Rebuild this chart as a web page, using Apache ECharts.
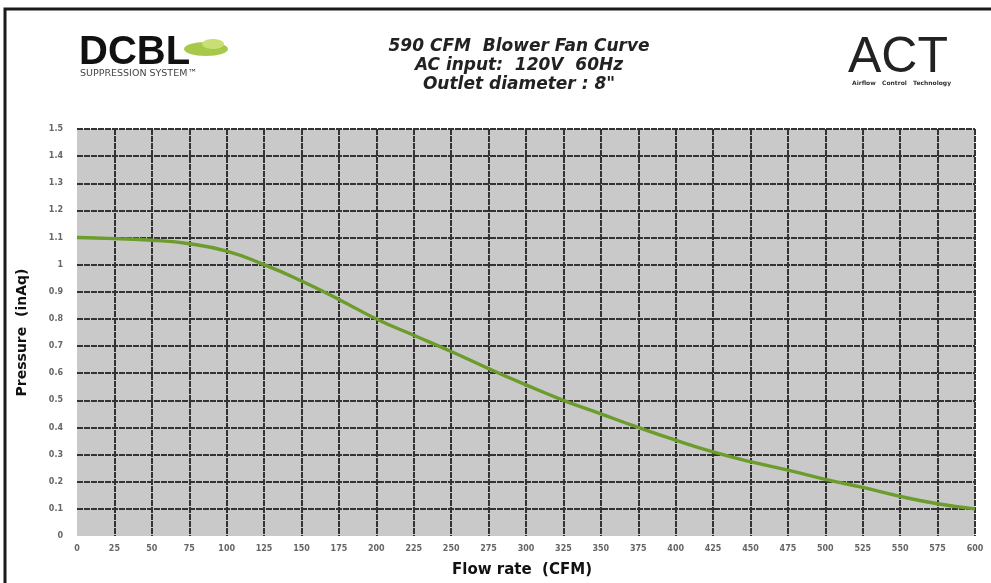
<!DOCTYPE html>
<html>
<head>
<meta charset="utf-8">
<script src="https://cdn.jsdelivr.net/npm/echarts@6/dist/echarts.min.js"></script>
<style>
  html, body { margin: 0; padding: 0; background: #fff; }
  #main { width: 991px; height: 583px; }
</style>
</head>
<body>
<div id="main"></div>
<script>
// flow rate (CFM) and pressure (inAq)
var flowRate = [0, 25, 50, 75, 100, 125, 150, 175, 200, 225, 250, 275, 300,
  325, 350, 375, 400, 425, 450, 475, 500, 525, 550, 575, 600];
var pressure = [1.10, 1.096, 1.09, 1.077, 1.05, 1.00, 0.94, 0.872, 0.80, 0.74, 0.68, 0.617, 0.557,
  0.50, 0.45, 0.40, 0.353, 0.31, 0.274, 0.243, 0.209, 0.179, 0.146, 0.119, 0.10];

var titleLines = ['590 CFM  Blower Fan Curve', 'AC input:  120V  60Hz', 'Outlet diameter : 8"'];

var myChart = echarts.init(document.getElementById('main'));

var points = flowRate.map(function (x, i) { return [x, pressure[i]]; });

var gridLine = { color: '#333333', width: 2, type: [6, 1] };

var option = {
  backgroundColor: '#ffffff',
  animation: false,
  grid: { left: 77, right: 16, top: 129, bottom: 45, show: true, backgroundColor: '#c9c9c9', borderWidth: 0 },
  xAxis: {
    type: 'value',
    min: 0, max: 600, interval: 25,
    name: 'Flow rate  (CFM)',
    nameLocation: 'middle',
    nameGap: 27,
    nameTextStyle: { fontFamily: 'DejaVu Sans', fontWeight: 'bold', fontSize: 15, color: '#111', padding: [0, 8, 0, 0] },
    axisLine: { show: false },
    axisTick: { show: false },
    axisLabel: { fontFamily: 'DejaVu Sans', fontWeight: 'bold', fontSize: 8, color: '#666', margin: 9 },
    splitLine: { show: true, showMinLine: false, lineStyle: gridLine }
  },
  yAxis: {
    type: 'value',
    min: 0, max: 1.5, interval: 0.1,
    name: 'Pressure  (inAq)',
    nameLocation: 'middle',
    nameGap: 48,
    nameTextStyle: { fontFamily: 'DejaVu Sans', fontWeight: 'bold', fontSize: 14, color: '#111' },
    axisLine: { show: false },
    axisTick: { show: false },
    axisLabel: {
      fontFamily: 'DejaVu Sans', fontWeight: 'bold', fontSize: 8, color: '#666', margin: 14,
      formatter: function (v) { return String(Math.round(v * 10) / 10); }
    },
    splitLine: { show: true, showMinLine: false, lineStyle: gridLine }
  },
  series: [{
    type: 'line',
    data: points,
    smooth: 0.5,
    symbol: 'none',
    lineStyle: { color: '#6b9c2c', width: 3.4 }
  }],
  graphic: [
    // frame
    { type: 'rect', shape: { x: 5, y: 9, width: 995, height: 600 }, style: { fill: 'none', stroke: '#1a1a1a', lineWidth: 3 }, z: 10 },
    // title
    {
      type: 'text', x: 519, y: 37, z: 10,
      style: {
        text: titleLines.join('\n'), align: 'center',
        font: 'italic bold 17px "DejaVu Sans"', lineHeight: 19, fill: '#222'
      }
    },
    // DCBL logo
    { type: 'text', x: 79, y: 33, z: 10, style: { text: 'DCBL', font: 'bold 40px "Liberation Sans"', fill: '#111' } },
    { type: 'ellipse', shape: { cx: 206, cy: 49, rx: 22, ry: 7 }, style: { fill: '#a6c94a' }, z: 11 },
    { type: 'ellipse', shape: { cx: 213, cy: 44, rx: 11, ry: 5 }, style: { fill: '#c8df74' }, z: 12 },
    { type: 'text', x: 80, y: 69, z: 10, style: { text: 'SUPPRESSION SYSTEM\u2122', font: '9.5px "DejaVu Sans"', fill: '#444' } },
    // ACT logo
    { type: 'text', x: 848, y: 33, z: 10, style: { text: 'ACT', font: '50px "Liberation Sans"', fill: '#222' } },
    { type: 'text', x: 852, y: 80, z: 10, style: { text: 'Airflow   Control   Technology', font: 'bold 6px "DejaVu Sans"', fill: '#333' } }
  ]
};

myChart.setOption(option);
</script>
</body>
</html>
